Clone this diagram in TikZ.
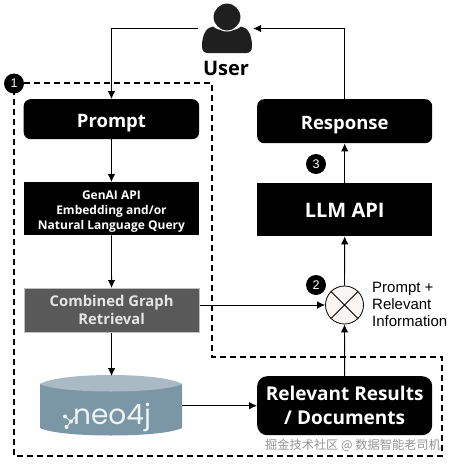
\documentclass[tikz,border=0pt]{standalone}
\usepackage{fontspec}
\setmainfont{Open Sans}
\newfontfamily\labelfont{Liberation Sans}
\newfontfamily\cjkfont{Noto Sans CJK SC}
\newfontfamily\neofont{Poppins}
\usetikzlibrary{arrows.meta,positioning}
\definecolor{dbside}{HTML}{7B97A6}
\definecolor{dbtop}{HTML}{A9BAC5}
\definecolor{dbtext}{HTML}{EEF3F5}
\definecolor{graybox}{HTML}{595959}
\definecolor{mixfill}{HTML}{FAF6F3}
\tikzset{
  x=1pt,y=-1pt,
  flow/.style={draw=black,line width=0.9pt,-{Latex[length=8pt,width=7.5pt]}},
  blackround/.style={fill=black,text=white,rounded corners=7pt,align=center,inner sep=0pt,anchor=north west,font=\fontsize{18.5}{22}\selectfont\bfseries},
  blacksquare/.style={fill=black,text=white,align=center,inner sep=0pt,anchor=north west},
  badge/.style={circle,fill=black,text=white,minimum size=20pt,inner sep=0pt,font=\fontsize{12.5}{13}\labelfont},
}
\begin{document}
\begin{tikzpicture}
\useasboundingbox (0,0) rectangle (453,464);
\fill[white] (0,0) rectangle (453,464);
% dashed region
\draw[line width=1.1pt,dash pattern=on 6pt off 4pt] (14,83) -- (212,83) -- (212,357) -- (442,357) -- (442,456) -- (14,456) -- cycle;
% boxes
\node[blackround,minimum width=175.5pt,minimum height=40pt] (prompt) at (23.5,99) {\rule{0pt}{20.5pt}Prompt};
\node[blacksquare,minimum width=175.5pt,minimum height=53pt,font=\fontsize{12}{15}\selectfont\bfseries] (genai) at (23.5,182) {\rule{0pt}{15pt}GenAI API\\Embedding and/or\\Natural Language Query};
\node[anchor=north west,fill=graybox,draw=black!25,line width=0.7pt,text=white!90!black,align=center,inner sep=0pt,minimum width=175.5pt,minimum height=44pt,font=\fontsize{14.8}{18}\selectfont\bfseries] (graph) at (23.5,288) {Combined Graph\\Retrieval};
\node[blackround,minimum width=175pt,minimum height=44pt] (response) at (257,99) {\rule{0pt}{20.5pt}Response};
\node[blacksquare,minimum width=175pt,minimum height=53pt,font=\fontsize{20}{24}\selectfont\bfseries] (llm) at (257,183) {\rule{0pt}{16.5pt}LLM API};
\node[blackround,minimum width=175pt,minimum height=59pt,rounded corners=10pt,font=\fontsize{19}{24}\selectfont\bfseries] (results) at (257,376) {Relevant Results\\/ Documents};
% database
\fill[dbside] (40,384) -- (40,428) .. controls (60,438) and (162,438) .. (182,428) -- (182,384) -- cycle;
\fill[dbtop] (40,384) .. controls (60,372) and (162,372) .. (182,384) .. controls (162,394) and (60,394) .. (40,384) -- cycle;
\node[anchor=north west,minimum width=142pt,minimum height=59pt,inner sep=0pt] (db) at (40,376) {};
\node[text=dbtext,inner sep=0pt,anchor=base west,font=\fontsize{28}{28}\neofont] (neo) at (73,424) {neo4j};
\draw[dbtext,line width=1pt] (65,416.5) -- (71,421.5) -- (75,417) (71,421.5) -- (66.5,427);
\fill[dbtext] (65,416.5) circle (2) (71,421.5) circle (2) (66.5,427) circle (2);
% user
\node[minimum width=55pt,minimum height=49pt,inner sep=0pt] (user) at (225.5,28.5) {};
\fill[black!88] (202,46) .. controls (202,34) and (207,27) .. (213,26.5) .. controls (218,32) and (236,32) .. (241,26.5) .. controls (247,27) and (252,34) .. (252,46) .. controls (252,51) and (250,53) .. (246,53) -- (208,53) .. controls (204,53) and (202,51) .. (202,46) -- cycle;
\fill[black!88,draw=white,line width=1pt] (227,17) circle (14);
\node[font=\fontsize{20}{22}\selectfont\bfseries,inner sep=0pt] (userlabel) at (226,68) {User};
% mixer
\node[circle,draw=black,fill=mixfill,line width=0.8pt,minimum size=38pt,inner sep=0pt] (mix) at (344.5,305) {};
\draw[line width=0.8pt] (mix.north west) -- (mix.south east) (mix.north east) -- (mix.south west);
\node[anchor=north west,align=left,inner sep=0pt,font=\fontsize{15}{17}\labelfont] (mixlabel) at (372,281.5) {Prompt +\\Relevant\\Information};
% connectors
\draw[flow] (user.west) -| (prompt.north);
\draw[flow] (prompt) -- (genai);
\draw[flow] (genai) -- (graph);
\draw[flow] (graph) -- (graph |- db.north);
\draw[flow] (graph.east |- mix.west) -- (mix.west);
\draw[flow] (db.east) -- (results.west);
\draw[flow] (results.north) -- (mix.south);
\draw[flow] (mix.north) -- (llm.south);
\draw[flow] (llm.north) -- (response.south);
\draw[flow] (response.north) |- (user.east);
% badges
\node[badge] (b1) at (14,83.5) {1};
\node[badge] (b2) at (316,285) {2};
\node[badge] (b3) at (316,164) {3};
% watermark
\node[anchor=west,inner sep=0pt,text=black!42,font=\fontsize{12.2}{13}\cjkfont] (wm) at (265,445) {掘金技术社区 @ 数据智能老司机};
\end{tikzpicture}
\end{document}
